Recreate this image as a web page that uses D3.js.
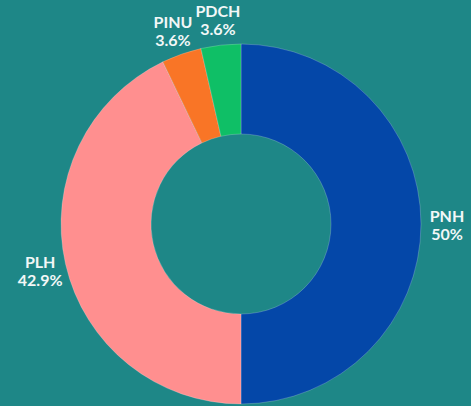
<!DOCTYPE html>
<html><head><meta charset="utf-8">
<script src="https://cdn.jsdelivr.net/npm/d3@7"></script>
<style>
html,body{margin:0;padding:0;background:#1E8787;}
svg{display:block;}
</style></head>
<body>
<svg id="chart" width="471" height="406"></svg>
<script>
const parties = ["PNH", "PLH", "PINU", "PDCH"];
const seats = [14, 12, 1, 1];
const percentLabels = ["50%", "42.9%", "3.6%", "3.6%"];
const colors = ["#0447A8", "#FF8F8F", "#F97526", "#0FBF66"];

const W = 471, H = 406, cx = 241, cy = 224;
const outerR = 180, innerR = 90, labelR = 206;

const svg = d3.select("#chart");
svg.append("rect").attr("width", W).attr("height", H).attr("fill", "#1E8787");

const data = parties.map((p, i) => ({ party: p, value: seats[i], pct: percentLabels[i], color: colors[i] }));
const pie = d3.pie().value(d => d.value).sort(null);
const arc = d3.arc().innerRadius(innerR).outerRadius(outerR);
const labelArc = d3.arc().innerRadius(labelR).outerRadius(labelR);

const g = svg.append("g").attr("transform", `translate(${cx},${cy})`);
const arcs = pie(data);

g.selectAll("path").data(arcs).join("path")
  .attr("d", arc)
  .attr("fill", d => d.data.color)
  .attr("stroke", "rgba(255,255,255,0.35)")
  .attr("stroke-width", 0.6);

const labels = g.selectAll("g.lbl").data(arcs).join("g")
  .attr("class", "lbl")
  .attr("transform", d => { const [x, y] = labelArc.centroid(d); return `translate(${x},${y})`; });

const textStyle = sel => sel
  .attr("text-anchor", "middle")
  .attr("font-family", "Lato, 'Open Sans', sans-serif")
  .attr("font-weight", 700)
  .attr("font-size", 16)
  .attr("fill", "#F2F7F7");

labels.append("text").call(textStyle).attr("y", -2).text(d => d.data.party);
labels.append("text").call(textStyle).attr("y", 16).text(d => d.data.pct);
</script>
</body></html>
